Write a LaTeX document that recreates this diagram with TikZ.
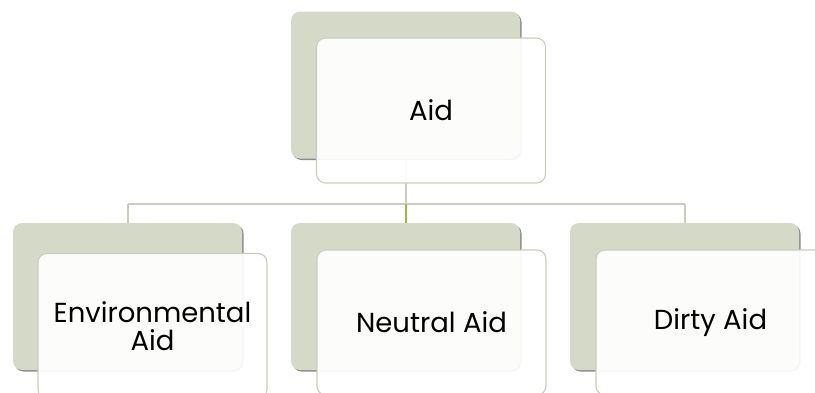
\documentclass[tikz,border=0pt]{standalone}
\usepackage{fontspec}
\setmainfont{Poppins}
\usetikzlibrary{shadows}
\definecolor{sage}{RGB}{213,218,200}
\definecolor{sageline}{RGB}{201,206,188}
\definecolor{olive}{RGB}{160,185,60}

\begin{document}
\begin{tikzpicture}[x=1pt, y=-1pt,
		backbox/.style={rectangle, rounded corners=9pt, fill=sage, minimum width=229pt, minimum height=147pt,
			drop shadow={shadow xshift=1.5pt, shadow yshift=-1.5pt, fill=black!45, opacity=1}},
		frontbox/.style={rectangle, rounded corners=9pt, draw=sageline, line width=1.1pt, fill=white, fill opacity=0.93,
			text opacity=1, minimum width=229pt, minimum height=145pt, align=center, font=\fontsize{27.5}{28}\selectfont},
		link/.style={draw=sageline, line width=2pt}]
	\useasboundingbox (0,0) rectangle (815,392);
	\clip (0,0) rectangle (815,392);
			% connectors go underneath
			\coordinate (top) at (405.5,85);
			\coordinate (env) at (127.5,296.5);
			\coordinate (neu) at (405.5,296.5);
			\coordinate (dir) at (684.5,296.5);
			\coordinate (bar) at (405.5,204);
			\draw[link] (top) -- (bar);
			\draw[link] (env |- bar) -- (dir |- bar);
			\draw[link] (env |- bar) -- (env);
			\draw[link] (dir |- bar) -- (dir);
			\draw[line width=2pt, olive] (bar) -- (neu);

			\node[backbox] (aidb) at (top) {};
			\node[backbox] (envb) at (env) {};
			\node[backbox] (neub) at (neu) {};
			\node[backbox] (dirb) at (dir) {};

			\node[frontbox] (aid) at (431,110.5) {Aid};
			\node[frontbox] (envaid) at (152.5,326) {Environmental\\Aid};
			\node[frontbox] (neutral) at (431.5,322.5) {Neutral Aid};
			\node[frontbox] (dirty) at (710.5,322.5) {Dirty Aid};
\end{tikzpicture}
\end{document}
